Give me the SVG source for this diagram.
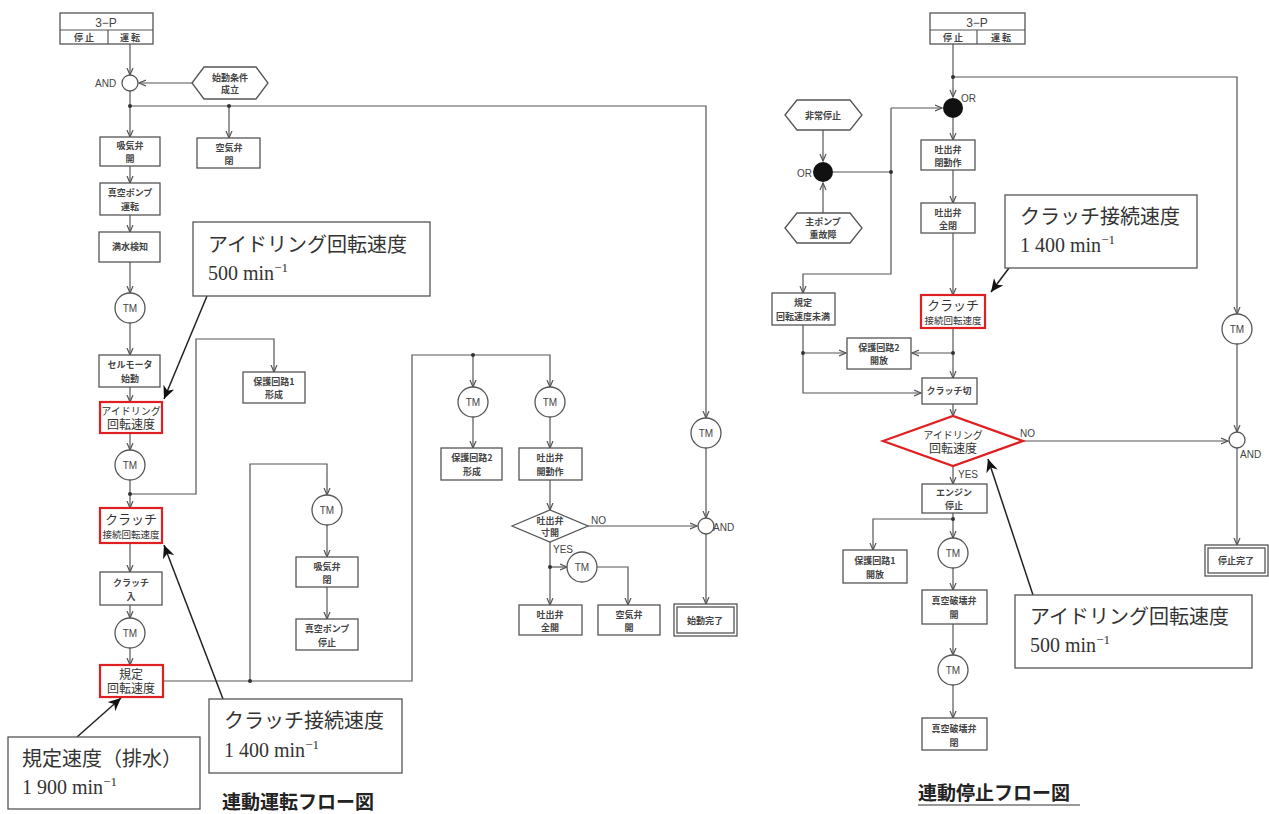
<svg xmlns="http://www.w3.org/2000/svg" width="1269" height="814" viewBox="0 0 1269 814">
<style>
.bx{fill:#fff;stroke:#555;stroke-width:1.3}
.rb{fill:#fff;stroke:#e02020;stroke-width:2.2}
.cn{fill:none;stroke:#555;stroke-width:1.2}
.ca{fill:none;stroke:#222;stroke-width:1.5}
.t{font-family:"Noto Sans CJK JP",sans-serif;font-size:9px;font-weight:bold;fill:#444;text-anchor:middle}
.s{font-family:"Liberation Sans",sans-serif;font-size:10px;fill:#444}
.p{font-family:"Liberation Sans",sans-serif;font-size:12px;fill:#444;text-anchor:middle}
.m{font-family:"Liberation Serif","Noto Sans CJK JP",serif;fill:#333;text-anchor:middle}
.c{font-family:"Liberation Serif","Noto Sans CJK JP",serif;font-size:20px;fill:#333}
.ttl{font-family:"Noto Sans CJK JP",sans-serif;font-size:19px;font-weight:bold;fill:#222}
.dot{fill:#333}
</style>
<defs>
<marker id="a" markerWidth="8" markerHeight="8" refX="7" refY="4" orient="auto" markerUnits="userSpaceOnUse"><path d="M0,1 L7,4 L0,7" fill="none" stroke="#555" stroke-width="1.2"/></marker>
<marker id="k" markerWidth="14" markerHeight="12" refX="13" refY="6" orient="auto" markerUnits="userSpaceOnUse"><path d="M0,0 L13,6 L0,12 L4,6 Z" fill="#111"/></marker>
</defs>
<rect width="1269" height="814" fill="#fff"/>

<g id="connectors">
<path class="cn" d="M130,44 V75" marker-end="url(#a)"/>
<path class="cn" d="M192,83 H139" marker-end="url(#a)"/>
<path class="cn" d="M130,91 V137" marker-end="url(#a)"/>
<path class="cn" d="M130,106 H706 V418" marker-end="url(#a)"/>
<path class="cn" d="M229,106 V138" marker-end="url(#a)"/>
<path class="cn" d="M130,166 V183" marker-end="url(#a)"/>
<path class="cn" d="M130,215 V232" marker-end="url(#a)"/>
<path class="cn" d="M130,262 V293" marker-end="url(#a)"/>
<path class="cn" d="M130,323 V355" marker-end="url(#a)"/>
<path class="cn" d="M130,387 V402" marker-end="url(#a)"/>
<path class="cn" d="M130,433 V450" marker-end="url(#a)"/>
<path class="cn" d="M130,480 V508" marker-end="url(#a)"/>
<path class="cn" d="M130,494 H196 V339 H274 V372" marker-end="url(#a)"/>
<path class="cn" d="M130,543 V572" marker-end="url(#a)"/>
<path class="cn" d="M130,605 V618" marker-end="url(#a)"/>
<path class="cn" d="M130,648 V665" marker-end="url(#a)"/>
<path class="cn" d="M163,681 H412 V355 H550 V387" marker-end="url(#a)"/>
<path class="cn" d="M250,681 V464 H327 V495" marker-end="url(#a)"/>
<path class="cn" d="M327,525 V557" marker-end="url(#a)"/>
<path class="cn" d="M327,587 V619" marker-end="url(#a)"/>
<path class="cn" d="M473,355 V387" marker-end="url(#a)"/>
<path class="cn" d="M473,417 V448" marker-end="url(#a)"/>
<path class="cn" d="M550,417 V448" marker-end="url(#a)"/>
<path class="cn" d="M550,480 V510" marker-end="url(#a)"/>
<path class="cn" d="M588,526 H697" marker-end="url(#a)"/>
<path class="cn" d="M550,542 V605" marker-end="url(#a)"/>
<path class="cn" d="M550,567 H567" marker-end="url(#a)"/>
<path class="cn" d="M597,567 H628 V605" marker-end="url(#a)"/>
<path class="cn" d="M706,448 V518" marker-end="url(#a)"/>
<path class="cn" d="M706,534 V604" marker-end="url(#a)"/>
<circle class="dot" cx="130" cy="106" r="2"/>
<circle class="dot" cx="229" cy="106" r="2"/>
<circle class="dot" cx="130" cy="494" r="2"/>
<circle class="dot" cx="250" cy="681" r="2"/>
<circle class="dot" cx="473" cy="355" r="2"/>
<circle class="dot" cx="550" cy="567" r="2"/>
<path class="cn" d="M953,44 V97" marker-end="url(#a)"/>
<path class="cn" d="M953,77 H1237 V314" marker-end="url(#a)"/>
<path class="cn" d="M891,108 H942" marker-end="url(#a)"/>
<path class="cn" d="M833,172 H891"/>
<path class="cn" d="M891,108 V274 H803 V293" marker-end="url(#a)"/>
<path class="cn" d="M823,130 V161" marker-end="url(#a)"/>
<path class="cn" d="M823,213 V183" marker-end="url(#a)"/>
<path class="cn" d="M953,118 V140" marker-end="url(#a)"/>
<path class="cn" d="M953,170 V203" marker-end="url(#a)"/>
<path class="cn" d="M953,233 V295" marker-end="url(#a)"/>
<path class="cn" d="M953,328 V378" marker-end="url(#a)"/>
<path class="cn" d="M953,353 H912" marker-end="url(#a)"/>
<path class="cn" d="M803,325 V393 H921" marker-end="url(#a)"/>
<path class="cn" d="M803,353 H846" marker-end="url(#a)"/>
<path class="cn" d="M953,404 V416" marker-end="url(#a)"/>
<path class="cn" d="M1023,441 H1228" marker-end="url(#a)"/>
<path class="cn" d="M953,466 V484" marker-end="url(#a)"/>
<path class="cn" d="M953,513 V538" marker-end="url(#a)"/>
<path class="cn" d="M953,519 H873 V550" marker-end="url(#a)"/>
<path class="cn" d="M953,568 V590" marker-end="url(#a)"/>
<path class="cn" d="M953,624 V655" marker-end="url(#a)"/>
<path class="cn" d="M953,685 V718" marker-end="url(#a)"/>
<path class="cn" d="M1237,344 V432" marker-end="url(#a)"/>
<path class="cn" d="M1237,448 V545" marker-end="url(#a)"/>
<circle class="dot" cx="953" cy="77" r="2"/>
<circle class="dot" cx="891" cy="172" r="2"/>
<circle class="dot" cx="953" cy="353" r="2"/>
<circle class="dot" cx="803" cy="353" r="2"/>
<circle class="dot" cx="953" cy="519" r="2"/>
<path class="ca" d="M207,296 L164,399" marker-end="url(#k)"/>
<path class="ca" d="M223,699 L164,545" marker-end="url(#k)"/>
<path class="ca" d="M77,737 L121,698" marker-end="url(#k)"/>
<path class="ca" d="M1009,268 L991,292" marker-end="url(#k)"/>
<path class="ca" d="M1033,595 L988,459" marker-end="url(#k)"/>
</g>

<g id="L_3p"><rect class="bx" x="60" y="13" width="93" height="31"/><line class="cn" x1="60" y1="30" x2="153" y2="30"/><line class="cn" x1="108" y1="30" x2="108" y2="44"/>
<text class="p" x="106" y="27">3−P</text><text class="t" x="84" y="41">停 止</text><text class="t" x="130" y="41">運 転</text></g>
<g id="L_and1"><circle class="bx" cx="130" cy="83" r="8"/><text class="s" x="95" y="87" font-size="11">AND</text></g>
<g id="L_start_cond"><polygon class="bx" points="192,83 204,67 256,67 268,83 256,99 204,99"/><text class="t" x="230" y="81">始動条件</text><text class="t" x="230" y="93">成立</text></g>
<g id="L_kyuki_open"><rect class="bx" x="100" y="137" width="60" height="29"/><text class="t" x="130" y="149">吸気弁</text><text class="t" x="130" y="162">開</text></g>
<g id="L_kuki_close"><rect class="bx" x="197" y="138" width="63" height="30"/><text class="t" x="229" y="151">空気弁</text><text class="t" x="229" y="164">閉</text></g>
<g id="L_vac_run"><rect class="bx" x="100" y="183" width="60" height="32"/><text class="t" x="130" y="196">真空ポンプ</text><text class="t" x="130" y="210">運転</text></g>
<g id="L_full"><rect class="bx" x="99" y="232" width="61" height="30"/><text class="t" x="130" y="250">満水検知</text></g>
<g id="L_tm1"><circle class="bx" cx="130" cy="308" r="15"/><text class="s" x="130" y="312" text-anchor="middle">TM</text></g>
<g id="L_cell"><rect class="bx" x="99" y="355" width="61" height="32"/><text class="t" x="130" y="368">セルモータ</text><text class="t" x="130" y="382">始動</text></g>
<g id="L_idle"><rect class="rb" x="100" y="402" width="62" height="31"/><text class="m" x="131" y="415" font-size="10">アイドリング</text><text class="m" x="131" y="429" font-size="12">回転速度</text></g>
<g id="L_tm2"><circle class="bx" cx="130" cy="465" r="15"/><text class="s" x="130" y="469" text-anchor="middle">TM</text></g>
<g id="L_clutch_spd"><rect class="rb" x="100" y="508" width="62" height="35"/><text class="m" x="131" y="524" font-size="13">クラッチ</text><text class="m" x="131" y="538" font-size="9.5">接続回転速度</text></g>
<g id="L_clutch_in"><rect class="bx" x="100" y="572" width="62" height="33"/><text class="t" x="131" y="586">クラッチ</text><text class="t" x="131" y="600">入</text></g>
<g id="L_tm3"><circle class="bx" cx="130" cy="633" r="15"/><text class="s" x="130" y="637" text-anchor="middle">TM</text></g>
<g id="L_rated"><rect class="rb" x="100" y="665" width="63" height="32"/><text class="m" x="131" y="679" font-size="12">規定</text><text class="m" x="131" y="693" font-size="12">回転速度</text></g>
<g id="L_prot1"><rect class="bx" x="243" y="372" width="62" height="31"/><text class="t" x="274" y="385">保護回路1</text><text class="t" x="274" y="398">形成</text></g>
<g id="L_tm4"><circle class="bx" cx="327" cy="510" r="15"/><text class="s" x="327" y="514" text-anchor="middle">TM</text></g>
<g id="L_kyuki_close"><rect class="bx" x="296" y="557" width="62" height="30"/><text class="t" x="327" y="570">吸気弁</text><text class="t" x="327" y="583">閉</text></g>
<g id="L_vac_stop"><rect class="bx" x="296" y="619" width="62" height="31"/><text class="t" x="327" y="632">真空ポンプ</text><text class="t" x="327" y="646">停止</text></g>
<g id="L_tm5"><circle class="bx" cx="473" cy="402" r="15"/><text class="s" x="473" y="406" text-anchor="middle">TM</text></g>
<g id="L_tm6"><circle class="bx" cx="550" cy="402" r="15"/><text class="s" x="550" y="406" text-anchor="middle">TM</text></g>
<g id="L_prot2"><rect class="bx" x="441" y="448" width="61" height="32"/><text class="t" x="472" y="461">保護回路2</text><text class="t" x="472" y="475">形成</text></g>
<g id="L_dis_op"><rect class="bx" x="519" y="448" width="63" height="32"/><text class="t" x="550" y="461">吐出弁</text><text class="t" x="550" y="475">開動作</text></g>
<g id="L_dia"><polygon class="bx" points="512,526 550,510 588,526 550,542"/><text class="t" x="550" y="524">吐出弁</text><text class="t" x="550" y="536">寸開</text>
<text class="s" x="591" y="524">NO</text><text class="s" x="553" y="553">YES</text></g>
<g id="L_and2"><circle class="bx" cx="706" cy="526" r="8"/><text class="s" x="713" y="531" font-size="11">AND</text></g>
<g id="L_tm7"><circle class="bx" cx="582" cy="567" r="15"/><text class="s" x="582" y="571" text-anchor="middle">TM</text></g>
<g id="L_dis_full"><rect class="bx" x="519" y="605" width="63" height="30"/><text class="t" x="550" y="618">吐出弁</text><text class="t" x="550" y="631">全開</text></g>
<g id="L_kuki_open"><rect class="bx" x="598" y="605" width="62" height="30"/><text class="t" x="629" y="618">空気弁</text><text class="t" x="629" y="631">開</text></g>
<g id="L_tm8"><circle class="bx" cx="706" cy="433" r="15"/><text class="s" x="706" y="437" text-anchor="middle">TM</text></g>
<g id="L_done"><rect class="bx" x="674" y="604" width="63" height="32"/><rect class="bx" x="677" y="607" width="57" height="26"/><text class="t" x="705" y="624">始動完了</text></g>

<g id="R_3p"><rect class="bx" x="930" y="13" width="95" height="31"/><line class="cn" x1="930" y1="30" x2="1025" y2="30"/><line class="cn" x1="977" y1="30" x2="977" y2="44"/>
<text class="p" x="977" y="27">3−P</text><text class="t" x="953" y="41">停 止</text><text class="t" x="1001" y="41">運 転</text></g>
<g id="R_or1"><circle cx="953" cy="108" r="10" fill="#111"/><text class="s" x="961" y="102" font-size="11">OR</text></g>
<g id="R_emg"><polygon class="bx" points="785,115 797,100 850,100 862,115 850,130 797,130"/><text class="t" x="823" y="119">非常停止</text></g>
<g id="R_or2"><circle cx="823" cy="172" r="10" fill="#111"/><text class="s" x="797" y="177" font-size="11">OR</text></g>
<g id="R_main_fault"><polygon class="bx" points="785,228 797,213 850,213 862,228 850,243 797,243"/><text class="t" x="823" y="225">主ポンプ</text><text class="t" x="823" y="238">重故障</text></g>
<g id="R_dis_close"><rect class="bx" x="921" y="140" width="54" height="30"/><text class="t" x="948" y="153">吐出弁</text><text class="t" x="948" y="166">閉動作</text></g>
<g id="R_dis_full"><rect class="bx" x="921" y="203" width="54" height="30"/><text class="t" x="948" y="216">吐出弁</text><text class="t" x="948" y="229">全閉</text></g>
<g id="R_clutch"><rect class="rb" x="921" y="295" width="64" height="33"/><text class="m" x="953" y="310" font-size="13">クラッチ</text><text class="m" x="953" y="324" font-size="9.5">接続回転速度</text></g>
<g id="R_below"><rect class="bx" x="772" y="293" width="63" height="32"/><text class="t" x="803" y="306">規定</text><text class="t" x="803" y="320">回転速度未満</text></g>
<g id="R_prot2"><rect class="bx" x="847" y="338" width="64" height="31"/><text class="t" x="879" y="351">保護回路2</text><text class="t" x="879" y="364">開放</text></g>
<g id="R_clutch_off"><rect class="bx" x="922" y="378" width="55" height="26"/><text class="t" x="949" y="394">クラッチ切</text></g>
<g id="R_dia"><polygon points="883,441 953,416 1023,441 953,466" fill="#fff" stroke="#e02020" stroke-width="2.2"/><text class="m" x="953" y="439" font-size="10">アイドリング</text><text class="m" x="953" y="453" font-size="12">回転速度</text>
<text class="s" x="1020" y="437">NO</text><text class="s" x="958" y="478">YES</text></g>
<g id="R_and"><circle class="bx" cx="1237" cy="440" r="8"/><text class="s" x="1240" y="458" font-size="10">AND</text></g>
<g id="R_tm3"><circle class="bx" cx="1237" cy="329" r="15"/><text class="s" x="1237" y="333" text-anchor="middle">TM</text></g>
<g id="R_done"><rect class="bx" x="1205" y="545" width="63" height="31"/><rect class="bx" x="1208" y="548" width="57" height="25"/><text class="t" x="1236" y="564">停止完了</text></g>
<g id="R_eng"><rect class="bx" x="922" y="484" width="65" height="29"/><text class="t" x="954" y="496">エンジン</text><text class="t" x="954" y="509">停止</text></g>
<g id="R_prot1"><rect class="bx" x="843" y="550" width="64" height="33"/><text class="t" x="875" y="564">保護回路1</text><text class="t" x="875" y="578">開放</text></g>
<g id="R_tm1"><circle class="bx" cx="953" cy="553" r="15"/><text class="s" x="953" y="557" text-anchor="middle">TM</text></g>
<g id="R_vb_open"><rect class="bx" x="922" y="590" width="65" height="34"/><text class="t" x="954" y="604">真空破壊弁</text><text class="t" x="954" y="618">開</text></g>
<g id="R_tm2"><circle class="bx" cx="953" cy="670" r="15"/><text class="s" x="953" y="674" text-anchor="middle">TM</text></g>
<g id="R_vb_close"><rect class="bx" x="922" y="718" width="65" height="32"/><text class="t" x="954" y="732">真空破壊弁</text><text class="t" x="954" y="746">閉</text></g>

<g id="C_idle_L"><rect class="bx" x="193" y="222" width="237" height="74" stroke="#333"/><text class="c" x="208" y="252">アイドリング回転速度</text><text class="c" x="208" y="280">500 min<tspan dy="-8" font-size="13">−1</tspan></text></g>
<g id="C_clutch_L"><rect class="bx" x="209" y="699" width="193" height="74" stroke="#333"/><text class="c" x="224" y="728">クラッチ接続速度</text><text class="c" x="224" y="757">1 400 min<tspan dy="-8" font-size="13">−1</tspan></text></g>
<g id="C_rated_L"><rect class="bx" x="8" y="737" width="192" height="72" stroke="#333"/><text class="c" x="22" y="766">規定速度（排水）</text><text class="c" x="22" y="794">1 900 min<tspan dy="-8" font-size="13">−1</tspan></text></g>
<g id="C_clutch_R"><rect class="bx" x="1005" y="195" width="192" height="73" stroke="#333"/><text class="c" x="1020" y="224">クラッチ接続速度</text><text class="c" x="1020" y="252">1 400 min<tspan dy="-8" font-size="13">−1</tspan></text></g>
<g id="C_idle_R"><rect class="bx" x="1015" y="595" width="237" height="73" stroke="#333"/><text class="c" x="1030" y="624">アイドリング回転速度</text><text class="c" x="1030" y="652">500 min<tspan dy="-8" font-size="13">−1</tspan></text></g>

<g id="titles"><text class="ttl" x="222" y="809">連動運転フロー図</text><text class="ttl" x="918" y="800">連動停止フロー図</text><line x1="918" y1="805" x2="1080" y2="805" stroke="#333" stroke-width="1.2"/></g>
</svg>
